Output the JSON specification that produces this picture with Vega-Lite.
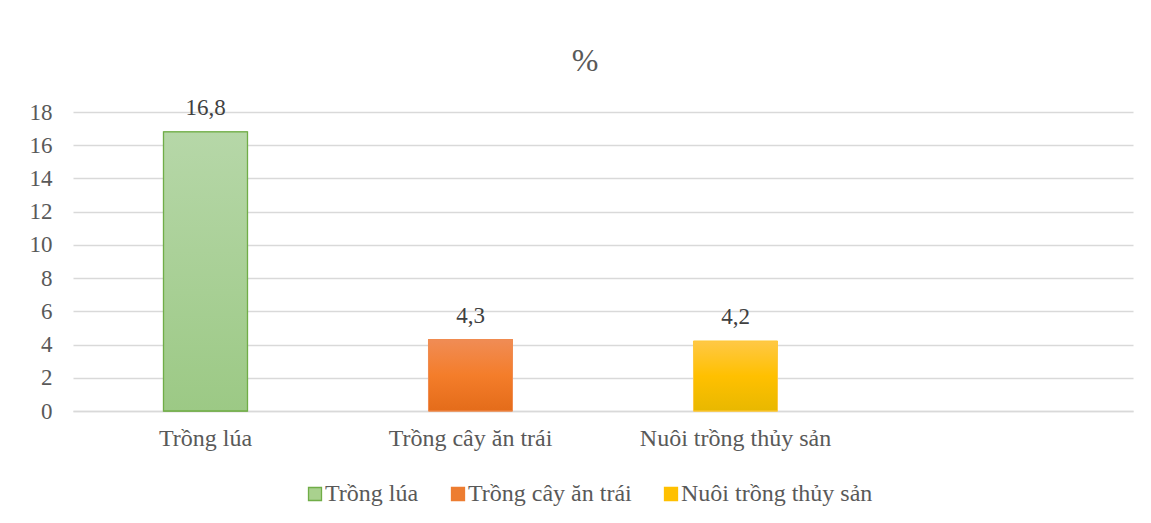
{
  "$schema": "https://vega.github.io/schema/vega-lite/v6.json",
  "width": 1060,
  "height": 299,
  "autosize": {"type": "none"},
  "padding": {"left": 73, "top": 112, "right": 18, "bottom": 112},
  "background": "white",
  "config": {
    "font": "'Liberation Serif', 'Times New Roman', 'DejaVu Serif', serif",
    "view": {"stroke": null},
    "locale": {"number": {"decimal": ",", "thousands": ".", "grouping": [3], "currency": ["", ""]}}
  },
  "title": {
    "text": "%",
    "anchor": "middle",
    "frame": "group",
    "offset": 19,
    "dx": -18,
    "fontSize": 32,
    "font": "'Liberation Serif', 'Times New Roman', serif",
    "fontWeight": "normal",
    "color": "#595959"
  },
  "data": {
    "values": [
      {"cat": "Trồng lúa", "value": 16.8},
      {"cat": "Trồng cây ăn trái", "value": 4.3},
      {"cat": "Nuôi trồng thủy sản", "value": 4.2}
    ]
  },
  "encoding": {
    "x": {
      "field": "cat",
      "type": "nominal",
      "scale": {"domain": ["Trồng lúa", "Trồng cây ăn trái", "Nuôi trồng thủy sản", " "], "paddingInner": 0.683, "paddingOuter": 0.3415},
      "axis": {
        "title": null,
        "labelAngle": 0,
        "labelFontSize": 24,
        "labelColor": "#595959",
        "labelFont": "'Liberation Serif', 'Times New Roman', serif",
        "labelPadding": 15,
        "labelLimit": 400,
        "ticks": false,
        "domainColor": "#d9d9d9",
        "domainWidth": 1.3,
        "grid": false
      }
    },
    "y": {
      "field": "value",
      "type": "quantitative",
      "scale": {"domain": [0, 18], "nice": false},
      "axis": {
        "title": null,
        "values": [0, 2, 4, 6, 8, 10, 12, 14, 16, 18],
        "labelFontSize": 23,
        "labelColor": "#595959",
        "labelFont": "'Liberation Serif', 'Times New Roman', serif",
        "labelPadding": 21,
        "ticks": false,
        "domain": false,
        "gridColor": "#d9d9d9",
        "gridWidth": 1.3
      }
    }
  },
  "layer": [
    {
      "mark": {"type": "bar", "strokeWidth": 1},
      "encoding": {
        "fill": {
          "field": "cat",
          "type": "nominal",
          "scale": {"domain": ["Trồng lúa", "Trồng cây ăn trái", "Nuôi trồng thủy sản"], "range": ["#a9d18e", "#ed7d31", "#ffc000"]},
          "legend": {
            "title": null,
            "orient": "none",
            "direction": "horizontal",
            "legendX": 230,
            "legendY": 370,
            "symbolType": "square",
            "symbolSize": 169,
            "symbolStrokeWidth": 1.3,
            "labelFontSize": 24,
            "labelFont": "'Liberation Serif', 'Times New Roman', serif",
            "labelColor": "#595959",
            "labelOffset": -2,
            "columnPadding": 27,
            "labelLimit": 400
          }
        },
        "stroke": {
          "field": "cat",
          "type": "nominal",
          "scale": {"domain": ["Trồng lúa", "Trồng cây ăn trái", "Nuôi trồng thủy sản"], "range": ["#70ad47", "#ed7d31", "#ffc000"]},
          "legend": {
            "title": null,
            "orient": "none",
            "direction": "horizontal",
            "legendX": 230,
            "legendY": 370,
            "symbolType": "square",
            "symbolSize": 169,
            "symbolStrokeWidth": 1.3,
            "labelFontSize": 24,
            "labelFont": "'Liberation Serif', 'Times New Roman', serif",
            "labelColor": "#595959",
            "labelOffset": -2,
            "columnPadding": 27,
            "labelLimit": 400
          }
        }
      }
    },
    {
      "transform": [{"filter": "datum.cat === 'Trồng lúa'"}],
      "mark": {
        "type": "bar",
        "stroke": "#70ad47",
        "strokeWidth": 1.3,
        "fill": {"gradient": "linear", "x1": 0, "y1": 0, "x2": 0, "y2": 1, "stops": [{"offset": 0, "color": "#b6d7a8"}, {"offset": 1, "color": "#9cc985"}]}
      }
    },
    {
      "transform": [{"filter": "datum.cat === 'Trồng cây ăn trái'"}],
      "mark": {
        "type": "bar",
        "stroke": "#f08c50",
        "strokeWidth": 1,
        "fill": {"gradient": "linear", "x1": 0, "y1": 0, "x2": 0, "y2": 1, "stops": [{"offset": 0, "color": "#f08c55"}, {"offset": 0.5, "color": "#f47d2a"}, {"offset": 1, "color": "#e46c1a"}]}
      }
    },
    {
      "transform": [{"filter": "datum.cat === 'Nuôi trồng thủy sản'"}],
      "mark": {
        "type": "bar",
        "stroke": "#ffc940",
        "strokeWidth": 1,
        "fill": {"gradient": "linear", "x1": 0, "y1": 0, "x2": 0, "y2": 1, "stops": [{"offset": 0, "color": "#ffc845"}, {"offset": 0.5, "color": "#ffc000"}, {"offset": 1, "color": "#e8b800"}]}
      }
    },
    {
      "mark": {"type": "text", "baseline": "bottom", "dy": -12, "fontSize": 23, "font": "'Liberation Serif', 'Times New Roman', serif", "color": "#404040"},
      "encoding": {
        "text": {"field": "value", "type": "quantitative", "format": ".1f"}
      }
    }
  ]
}
